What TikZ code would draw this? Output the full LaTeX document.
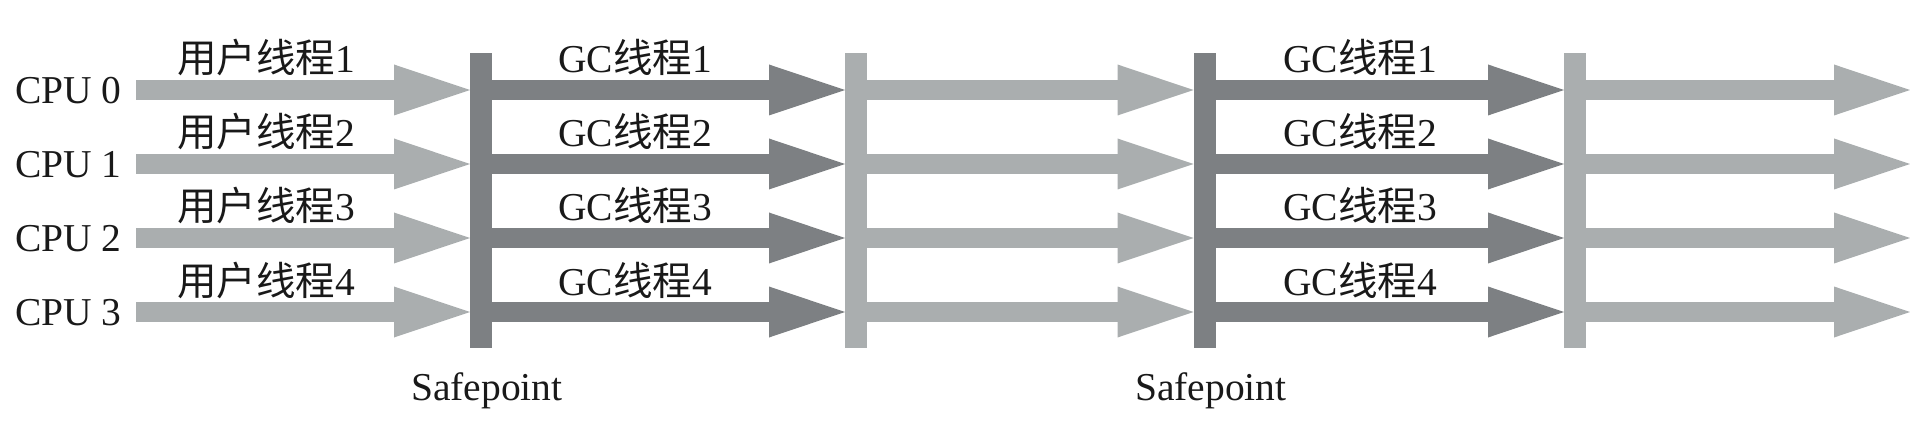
\documentclass[tikz,border=0pt]{standalone}
\usepackage{fontspec}
\setmainfont{Liberation Serif}
\newfontfamily\cjk{Noto Sans CJK SC}
\usetikzlibrary{arrows.meta}
\definecolor{lgray}{HTML}{AAAEAF}
\definecolor{dgray}{HTML}{7D8083}
\begin{document}
\begin{tikzpicture}[x=1pt,y=-1pt,
  lbl/.style={anchor=base west, inner sep=0pt, font=\fontsize{39.5}{45}\selectfont, text=black!90},
  barbase/.style={draw=none, minimum width=22pt, minimum height=295pt, inner sep=0pt, outer sep=0pt},
  barD/.style={barbase, fill=dgray},
  barL/.style={barbase, fill=lgray},
  thr/.style={line width=20pt, -{Triangle[length=76pt,width=51pt,line width=0pt]}},
  thrL/.style={thr, draw=lgray},
  thrD/.style={thr, draw=dgray}
]
\useasboundingbox (0,0) rectangle (1910,438);
% safepoint bars
\node[barD] (b1) at (481,200.5) {};
\node[barL] (b2) at (856,200.5) {};
\node[barD] (b3) at (1204.5,200.5) {};
\node[barL] (b4) at (1575,200.5) {};
% rows
\foreach \i/\y/\n in {0/90/1,1/164/2,2/238/3,3/312/4}{
  \coordinate (s\i) at (136,\y);
  \coordinate (e\i) at (1910,\y);
  \draw[thrL] (s\i) -- (b1.west |- s\i);
  \draw[thrD] (b1.east |- s\i) -- (b2.west |- s\i);
  \draw[thrL] (b2.east |- s\i) -- (b3.west |- s\i);
  \draw[thrD] (b3.east |- s\i) -- (b4.west |- s\i);
  \draw[thrL] (b4.east |- s\i) -- (e\i);
  \node[lbl] (cpu\i) at (15,\y+13.5) {CPU \i};
  \node[lbl] (u\i) at (177,\y-17) {{\cjk 用户线程}\n};
  \node[lbl] (ga\i) at (558,\y-17) {GC{\cjk 线程}\n};
  \node[lbl] (gb\i) at (1283,\y-17) {GC{\cjk 线程}\n};
}
\node[lbl] (sp1) at (411,400) {Safepoint};
\node[lbl] (sp2) at (1135,400) {Safepoint};
\end{tikzpicture}
\end{document}
